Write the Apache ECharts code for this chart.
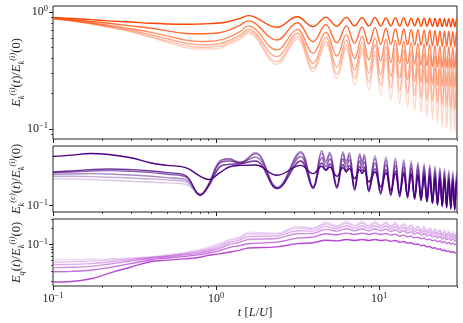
<!DOCTYPE html>
<html>
<head>
<meta charset="utf-8">
<title>energy ratios</title>
<script src="https://cdn.jsdelivr.net/npm/echarts@6/dist/echarts.min.js"></script>
<style>
  html, body { margin: 0; padding: 0; background: #fff; }
  #chart { width: 463px; height: 323px; }
</style>
</head>
<body>
<div id="chart"></div>
<script>
// time samples (t in L/U)
var tEarly = [0.1, 0.13, 0.17, 0.22, 0.3, 0.4, 0.5, 0.65, 0.8, 0.9, 1.05, 1.2, 1.4];
var tWave = [1.571, 2.356, 3.142, 3.927, 4.712, 5.498, 6.283, 7.069, 7.854, 8.639, 9.425, 10.21, 11.0, 11.78,
  12.57, 13.35, 14.14, 14.92, 15.71, 16.49, 17.28, 18.06, 18.85, 19.63, 20.42, 21.21, 21.99, 22.78, 23.56,
  24.35, 25.13, 25.92, 26.7, 27.49, 28.27, 29.06, 29.85, 30];
var tMidA = [1.74, 2.37, 3.3, 3.93, 4.45, 4.71, 4.97, 5.5, 6.0, 6.28, 6.55, 7.07, 7.6, 7.85, 8.1, 8.64];

// top panel: E_k^(i)(t)/E_k^(i)(0)
var top1 = [0.90, 0.88, 0.86, 0.84, 0.82, 0.80, 0.79, 0.785, 0.79, 0.795, 0.805, 0.83, 0.88,
  0.93, 0.74, 0.91, 0.75, 0.90, 0.755, 0.90, 0.76, 0.895, 0.76, 0.895, 0.76, 0.89, 0.76, 0.89, 0.76, 0.89, 0.76,
  0.885, 0.76, 0.885, 0.755, 0.885, 0.755, 0.88, 0.755, 0.88, 0.75, 0.88, 0.75, 0.875, 0.75, 0.875, 0.745,
  0.875, 0.745, 0.87, 0.868];
var top2 = [0.89, 0.86, 0.83, 0.80, 0.76, 0.726, 0.69, 0.655, 0.652, 0.655, 0.665, 0.70, 0.77,
  0.84, 0.576, 0.81, 0.557, 0.78, 0.545, 0.76, 0.54, 0.745, 0.535, 0.735, 0.53, 0.725, 0.53, 0.72, 0.525,
  0.715, 0.525, 0.71, 0.52, 0.705, 0.52, 0.70, 0.515, 0.70, 0.515, 0.695, 0.51, 0.69, 0.51, 0.69, 0.505,
  0.685, 0.505, 0.68, 0.50, 0.68, 0.678];
var top3 = [0.885, 0.85, 0.81, 0.77, 0.72, 0.67, 0.625, 0.575, 0.56, 0.562, 0.575, 0.61, 0.68,
  0.76, 0.473, 0.71, 0.444, 0.67, 0.42, 0.64, 0.40, 0.62, 0.39, 0.60, 0.38, 0.585, 0.37, 0.57, 0.365,
  0.56, 0.36, 0.55, 0.355, 0.54, 0.35, 0.535, 0.345, 0.53, 0.34, 0.52, 0.34, 0.515, 0.335, 0.51, 0.335,
  0.505, 0.33, 0.50, 0.33, 0.50, 0.498];
var top4 = [0.88, 0.845, 0.80, 0.755, 0.70, 0.636, 0.59, 0.54, 0.525, 0.525, 0.535, 0.57, 0.635,
  0.71, 0.415, 0.658, 0.364, 0.61, 0.335, 0.575, 0.315, 0.55, 0.30, 0.525, 0.29, 0.505, 0.28, 0.49, 0.27,
  0.475, 0.262, 0.46, 0.256, 0.45, 0.25, 0.44, 0.245, 0.43, 0.24, 0.42, 0.237, 0.415, 0.234, 0.41, 0.232,
  0.40, 0.23, 0.395, 0.228, 0.39, 0.388];
var top5 = [0.875, 0.84, 0.795, 0.745, 0.685, 0.615, 0.565, 0.515, 0.50, 0.50, 0.51, 0.545, 0.605,
  0.68, 0.376, 0.615, 0.33, 0.56, 0.295, 0.52, 0.27, 0.49, 0.25, 0.46, 0.235, 0.44, 0.222, 0.42, 0.21,
  0.40, 0.20, 0.385, 0.192, 0.37, 0.185, 0.36, 0.178, 0.35, 0.172, 0.34, 0.166, 0.33, 0.16, 0.32, 0.155,
  0.31, 0.15, 0.305, 0.145, 0.30, 0.298];
var top6 = [0.87, 0.835, 0.79, 0.74, 0.675, 0.603, 0.55, 0.495, 0.482, 0.482, 0.49, 0.525, 0.585,
  0.658, 0.357, 0.585, 0.31, 0.53, 0.271, 0.49, 0.238, 0.455, 0.215, 0.425, 0.195, 0.40, 0.177, 0.38, 0.166,
  0.36, 0.155, 0.345, 0.145, 0.33, 0.137, 0.315, 0.127, 0.30, 0.121, 0.29, 0.113, 0.28, 0.106, 0.27, 0.10,
  0.26, 0.097, 0.25, 0.094, 0.245, 0.243];

// middle panel: E_k^(c)(t)/E_k^(i)(0)
var mid1 = [0.3137, 0.3236, 0.3366, 0.3288, 0.3044, 0.2694, 0.2553, 0.242, 0.1982, 0.1836, 0.214, 0.2457, 0.2553,
  0.2573, 0.2028, 0.2553, 0.2107, 0.2495, 0.2275, 0.2457, 0.1982, 0.242, 0.219, 0.2364, 0.1878, 0.231, 0.2107, 0.2275, 0.1739,
  0.219, 0.155, 0.214, 0.1435, 0.2107, 0.135, 0.2075, 0.128, 0.2044, 0.1212, 0.2012, 0.1158, 0.1982, 0.1106,
  0.1951, 0.1056, 0.1922, 0.1016, 0.1893, 0.0978, 0.1864, 0.0948, 0.1836, 0.092, 0.1807, 0.0899, 0.178, 0.1766];
var mid2 = [0.219, 0.2241, 0.231, 0.2345, 0.231, 0.2241, 0.2157, 0.2012, 0.127, 0.1574, 0.2457, 0.2613, 0.2653,
  0.2821, 0.1492, 0.2821, 0.1515, 0.2694, 0.231, 0.2653, 0.155, 0.2613, 0.2275, 0.2553, 0.1458, 0.2495, 0.2241, 0.2457, 0.1414,
  0.2364, 0.131, 0.231, 0.127, 0.2241, 0.1231, 0.219, 0.1194, 0.214, 0.1158, 0.2075, 0.1122, 0.2028, 0.1089,
  0.1982, 0.1056, 0.1936, 0.1024, 0.1893, 0.0993, 0.185, 0.0971, 0.1807, 0.0948, 0.1766, 0.0927, 0.1726, 0.1713];
var mid3 = [0.2157, 0.219, 0.2241, 0.2258, 0.2224, 0.2157, 0.2075, 0.1951, 0.128, 0.1611, 0.2694, 0.2821, 0.2736,
  0.309, 0.1492, 0.3137, 0.1492, 0.3044, 0.2495, 0.2977, 0.1492, 0.2977, 0.2457, 0.2909, 0.1435, 0.2821, 0.242, 0.2778, 0.1381,
  0.2694, 0.133, 0.2613, 0.129, 0.2534, 0.125, 0.2457, 0.1212, 0.2383, 0.1176, 0.231, 0.114, 0.2241, 0.1106,
  0.2173, 0.1072, 0.2107, 0.1048, 0.2044, 0.1024, 0.1982, 0.1001, 0.1922, 0.0978, 0.1878, 0.0948, 0.1836, 0.1821];
var mid4 = [0.2075, 0.2091, 0.2107, 0.2091, 0.2044, 0.1982, 0.1922, 0.1836, 0.130, 0.1674, 0.2821, 0.2977, 0.2736,
  0.334, 0.1515, 0.3392, 0.1527, 0.3392, 0.2694, 0.3288, 0.1527, 0.3288, 0.2653, 0.321, 0.1492, 0.3137, 0.2613, 0.309, 0.1435,
  0.2977, 0.1381, 0.2864, 0.134, 0.2778, 0.130, 0.2694, 0.1261, 0.2613, 0.1222, 0.2534, 0.1185, 0.2457, 0.1149,
  0.2383, 0.1122, 0.231, 0.1089, 0.2241, 0.1064, 0.2173, 0.104, 0.2107, 0.1008, 0.2044, 0.0978, 0.1982, 0.1966];
var mid5 = [0.1982, 0.1982, 0.1966, 0.1936, 0.1907, 0.1864, 0.1821, 0.1753, 0.130, 0.1636, 0.2757, 0.2977, 0.2694,
  0.3443, 0.1527, 0.3524, 0.155, 0.3606, 0.2821, 0.347, 0.1574, 0.3497, 0.2778, 0.3417, 0.155, 0.334, 0.2778, 0.3288, 0.1492,
  0.3137, 0.1435, 0.3044, 0.1392, 0.2954, 0.135, 0.2864, 0.131, 0.2778, 0.127, 0.2694, 0.1231, 0.2613, 0.1194,
  0.2534, 0.1167, 0.2457, 0.114, 0.2383, 0.1106, 0.231, 0.108, 0.2241, 0.1056, 0.2173, 0.1024, 0.2107, 0.2091];
var mid6 = [0.1878, 0.1864, 0.1836, 0.1807, 0.1766, 0.1726, 0.17, 0.1649, 0.131, 0.1611, 0.2613, 0.2909, 0.2613,
  0.3392, 0.155, 0.347, 0.1574, 0.3552, 0.2864, 0.3443, 0.1611, 0.347, 0.2821, 0.3392, 0.1574, 0.334, 0.2821, 0.3288, 0.1527,
  0.321, 0.148, 0.3137, 0.1435, 0.3044, 0.1392, 0.2954, 0.135, 0.2864, 0.131, 0.2778, 0.127, 0.2694, 0.1231,
  0.2613, 0.1203, 0.2534, 0.1176, 0.2457, 0.114, 0.2383, 0.1114, 0.231, 0.1089, 0.2241, 0.1056, 0.219, 0.2157];

// bottom panel: E_q(t)/E_k^(i)(0)
var bot1 = [0.0191, 0.0195, 0.022, 0.028, 0.037, 0.047, 0.050, 0.053, 0.057, 0.062, 0.066, 0.071, 0.078,
  0.0855, 0.0898, 0.1036, 0.1078, 0.1205, 0.1171, 0.1241, 0.1188, 0.1241, 0.1188, 0.1241, 0.1188, 0.1223, 0.1154,
  0.1187, 0.1104, 0.1136, 0.1061, 0.1075, 0.1004, 0.1018, 0.095, 0.0964, 0.0899, 0.0912, 0.0851, 0.0863, 0.0805,
  0.0829, 0.0762, 0.0784, 0.0731, 0.0753, 0.071, 0.0731, 0.0689, 0.071, 0.0705];
var bot2 = [0.030, 0.0305, 0.032, 0.036, 0.043, 0.051, 0.055, 0.059, 0.064, 0.068, 0.076, 0.087, 0.095,
  0.1029, 0.1106, 0.1322, 0.1382, 0.1602, 0.1532, 0.165, 0.1555, 0.165, 0.1555, 0.165, 0.1555, 0.1625, 0.151,
  0.1578, 0.1444, 0.151, 0.1403, 0.1444, 0.1342, 0.1382, 0.1284, 0.1322, 0.1228, 0.1265, 0.1175, 0.121, 0.1124,
  0.1175, 0.1076, 0.1124, 0.1044, 0.1091, 0.1014, 0.106, 0.0983, 0.1029, 0.1025];
var bot3 = [0.036, 0.0365, 0.038, 0.042, 0.048, 0.0545, 0.058, 0.063, 0.069, 0.074, 0.084, 0.099, 0.110,
  0.1245, 0.1301, 0.16, 0.1624, 0.1939, 0.1801, 0.1996, 0.1828, 0.1996, 0.1828, 0.1996, 0.1828, 0.1967, 0.1775,
  0.1909, 0.1698, 0.1827, 0.1649, 0.1748, 0.1577, 0.1673, 0.1509, 0.16, 0.1444, 0.1531, 0.1381, 0.1464, 0.1321,
  0.1422, 0.1264, 0.136, 0.1228, 0.1321, 0.1192, 0.1282, 0.1156, 0.1245, 0.124];
var bot4 = [0.0412, 0.0415, 0.043, 0.046, 0.051, 0.056, 0.060, 0.066, 0.073, 0.079, 0.091, 0.108, 0.122,
  0.1423, 0.1442, 0.1829, 0.1801, 0.2216, 0.1997, 0.2282, 0.2027, 0.2282, 0.2027, 0.2282, 0.2027, 0.2248, 0.1968,
  0.2183, 0.1883, 0.2089, 0.1828, 0.1998, 0.1749, 0.1912, 0.1674, 0.1829, 0.1601, 0.175, 0.1532, 0.1674, 0.1465,
  0.1625, 0.1402, 0.1555, 0.1361, 0.151, 0.1322, 0.1466, 0.1282, 0.1423, 0.142];
var bot5 = [0.0462, 0.0465, 0.048, 0.050, 0.053, 0.057, 0.061, 0.068, 0.077, 0.084, 0.098, 0.117, 0.132,
  0.1603, 0.1576, 0.206, 0.1968, 0.2495, 0.2183, 0.2569, 0.2215, 0.2569, 0.2215, 0.2569, 0.2215, 0.2532, 0.2151,
  0.2458, 0.2058, 0.2352, 0.1998, 0.225, 0.1911, 0.2153, 0.1829, 0.206, 0.1749, 0.197, 0.1674, 0.1885, 0.1601,
  0.183, 0.1532, 0.1751, 0.1488, 0.17, 0.1445, 0.165, 0.1401, 0.1603, 0.16];
var bot6 = [0.0515, 0.0515, 0.052, 0.053, 0.055, 0.058, 0.062, 0.070, 0.080, 0.090, 0.105, 0.124, 0.14,
  0.1724, 0.165, 0.2215, 0.2058, 0.2684, 0.228, 0.2765, 0.2316, 0.2765, 0.2316, 0.2765, 0.2316, 0.2725, 0.2248,
  0.264, 0.215, 0.253, 0.209, 0.242, 0.1998, 0.2316, 0.191, 0.2215, 0.1829, 0.212, 0.175, 0.2028, 0.1674,
  0.197, 0.16, 0.1884, 0.1555, 0.1829, 0.151, 0.1775, 0.1465, 0.1724, 0.172];

// ticks
var xMajor = [0.1, 1, 10];
var xMinor = [0.2, 0.3, 0.4, 0.5, 0.6, 0.7, 0.8, 0.9, 2, 3, 4, 5, 6, 7, 8, 9, 20, 30];
var yTopMajor = [0.1, 1];
var yTopMinor = [0.09, 0.2, 0.3, 0.4, 0.5, 0.6, 0.7, 0.8, 0.9];
var yMidMajor = [0.1];
var yBotMajor = [0.1];
var yBotMinor = [0.02, 0.03, 0.04, 0.05, 0.06, 0.07, 0.08, 0.09, 0.2, 0.3];

var tTop = tEarly.concat(tWave);
var tMid = tEarly.concat(tMidA, tWave.slice(10));

var serif = "'Liberation Serif', 'DejaVu Serif', serif";
var ink = '#222';
var alphas = [1, 0.8, 0.62, 0.46, 0.33, 0.22];

function pairs(ts, vs) {
  if (ts.length !== vs.length) console.error('length mismatch', ts.length, vs.length);
  return ts.map(function (t, i) { return [t, vs[i]]; });
}

function powLabel(v) {
  var e = Math.round(Math.log(v) / Math.LN10);
  return '{b|10}{s|' + (e < 0 ? '\u2212' + (-e) : e) + '}';
}

var labelRich = {
  b: { fontFamily: serif, fontSize: 12, lineHeight: 15, color: ink },
  s: { fontFamily: serif, fontSize: 8.5, lineHeight: 9, verticalAlign: 'top', color: ink }
};

var nameRich = {
  i: { fontFamily: serif, fontSize: 12.5, fontStyle: 'italic', lineHeight: 18, color: ink },
  n: { fontFamily: serif, fontSize: 12.5, lineHeight: 18, color: ink },
  sp: { fontFamily: serif, fontSize: 8.5, fontStyle: 'italic', lineHeight: 10, verticalAlign: 'top', color: ink },
  sb: { fontFamily: serif, fontSize: 8.5, fontStyle: 'italic', lineHeight: 10, verticalAlign: 'bottom', color: ink }
};

var grids = [
  { left: 53, right: 6, top: 6, height: 133 },
  { left: 53, right: 6, top: 146, height: 66 },
  { left: 53, right: 6, top: 219, height: 67 }
];
grids.forEach(function (g) {
  g.show = true; g.borderColor = ink; g.borderWidth = 1; g.backgroundColor = 'transparent';
  g.containLabel = false; g.outerBoundsMode = 'none';
});

var xRange = [0.09995, 30];
var yRanges = [[0.082, 1.125], [0.0865, 0.40], [0.016, 0.307]];
var yNames = [
  '{i|E}{sb|k}{sp|(i)}{n|(}{i|t}{n|)/}{i|E}{sb|k}{sp|(i)}{n|(0)}',
  '{i|E}{sb|k}{sp|(c)}{n|(}{i|t}{n|)/}{i|E}{sb|k}{sp|(i)}{n|(0)}',
  '{i|E}{sb|q}{n|(}{i|t}{n|)/}{i|E}{sb|k}{sp|(i)}{n|(0)}'
];
var yMajors = [yTopMajor, yMidMajor, yBotMajor];

var xAxes = [];
var yAxes = [];
for (var g = 0; g < 3; g++) {
  xAxes.push({
    type: 'log', logBase: 10, gridIndex: g, min: xRange[0], max: xRange[1], position: 'bottom',
    axisLine: { show: false },
    axisTick: { show: true, length: 4, lineStyle: { color: ink, width: 1 }, customValues: xMajor },
    axisLabel: { show: g === 2, customValues: xMajor, formatter: powLabel, margin: 5, rich: labelRich },
    splitLine: { show: false },
    name: g === 2 ? '{i|t} {n|[}{i|L}{n|/}{i|U}{n|]}' : '',
    nameLocation: 'middle', nameGap: 18, nameMoveOverlap: false,
    nameTextStyle: { rich: nameRich }
  });
  yAxes.push({
    type: 'log', logBase: 10, gridIndex: g, min: yRanges[g][0], max: yRanges[g][1], position: 'left',
    axisLine: { show: false },
    axisTick: { show: true, length: 4, lineStyle: { color: ink, width: 1 }, customValues: yMajors[g] },
    axisLabel: { customValues: yMajors[g], formatter: powLabel, margin: 5, rich: labelRich },
    splitLine: { show: false },
    name: yNames[g], nameLocation: 'middle', nameRotate: 90, nameGap: 27, nameMoveOverlap: false,
    nameTextStyle: { rich: nameRich }
  });
}
// minor ticks drawn by overlay axes
for (var m = 0; m < 3; m++) {
  xAxes.push({
    type: 'log', logBase: 10, gridIndex: m, min: xRange[0], max: xRange[1], position: 'bottom',
    axisLine: { show: false }, axisLabel: { show: false }, splitLine: { show: false },
    axisTick: { show: true, length: 2, lineStyle: { color: ink, width: 0.8 }, customValues: xMinor }
  });
}
[[0, yTopMinor], [2, yBotMinor]].forEach(function (p) {
  yAxes.push({
    type: 'log', logBase: 10, gridIndex: p[0], min: yRanges[p[0]][0], max: yRanges[p[0]][1], position: 'left',
    axisLine: { show: false }, axisLabel: { show: false }, splitLine: { show: false },
    axisTick: { show: true, length: 2, lineStyle: { color: ink, width: 0.8 }, customValues: p[1] }
  });
});

var panels = [
  { rgb: '255,69,0', t: tTop, lines: [top1, top2, top3, top4, top5, top6] },
  { rgb: '75,0,130', t: tMid, lines: [mid1, mid2, mid3, mid4, mid5, mid6] },
  { rgb: '183,72,212', t: tTop, lines: [bot1, bot2, bot3, bot4, bot5, bot6] }
];

var series = [];
panels.forEach(function (p, gi) {
  for (var k = p.lines.length - 1; k >= 0; k--) {
    series.push({
      type: 'line', xAxisIndex: gi, yAxisIndex: gi,
      data: pairs(p.t, p.lines[k]),
      showSymbol: false, smooth: 0.4, silent: true,
      lineStyle: { width: 1.4, color: 'rgba(' + p.rgb + ',' + alphas[k] + ')' }
    });
  }
});

var chart = echarts.init(document.getElementById('chart'), null, { renderer: 'canvas' });
chart.setOption({
  animation: false,
  backgroundColor: '#fff',
  grid: grids,
  xAxis: xAxes,
  yAxis: yAxes,
  series: series
});
</script>
</body>
</html>
